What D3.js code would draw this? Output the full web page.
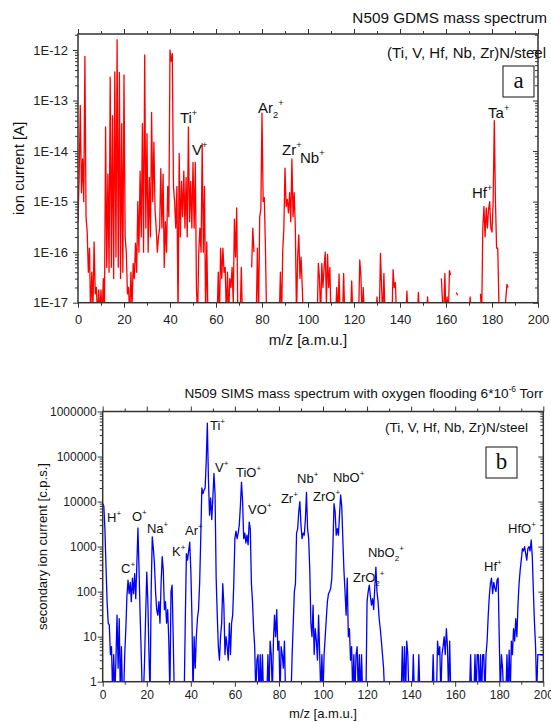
<!DOCTYPE html>
<html>
<head>
<meta charset="utf-8">
<script src="https://cdn.jsdelivr.net/npm/d3@7"></script>
<style>
  body { margin: 0; background: #fff; }
  svg { font-family: "Liberation Sans", Arial, sans-serif; }
</style>
</head>
<body>
<svg id="chart" width="551" height="722"></svg>
<script>
// ---- data ----

// GDMS spectrum, ion current [A], one value every 0.5 amu starting at 0 (null = no signal)
var gdmsStep = 0.5;
var gdmsCurrent = [
  4e-16, 3e-15, 8e-14, 1.5e-15, 7e-15, 1e-15, 7.5e-13, 5e-16, 2.5e-16, 4e-17,
  1.2e-16, 5e-18, 4e-17, 8e-18, 1.6e-16, 1.5e-17, 2e-17, 5e-18, 1.8e-17, 6e-18,
  1.8e-17, 5e-18, 3e-17, 6e-18, 3e-14, 5e-17, 3.5e-15, 4e-17, 2.9e-13, 5e-17,
  5e-14, 3e-17, 3.7e-13, 8e-17, 1.6e-12, 5e-17, 3.6e-13, 3e-17, 3.5e-14, 4e-17,
  3.2e-13, 2e-16, 1e-16, 1.5e-17, 2e-17, 5e-18, 4e-17, 8e-18, 6e-17, 3e-17,
  1.5e-16, 4e-17, 1e-15, 1e-16, 4e-15, 2e-16, 3.5e-14, 1e-16, 8e-13, 3e-16,
  2.2e-14, 1e-16, 3e-15, 2e-16, 5.8e-14, 1e-15, 1.5e-14, 7e-16, 3e-16, 1e-16,
  2e-16, 3e-16, 4.5e-15, 3e-16, 3.5e-15, 5e-17, 4e-16, 1e-16, 2e-15, 5e-16,
  1e-12, 6e-13, 8.5e-13, 2e-15, 1e-15, 3e-16, 2e-15, 5e-18, 9e-15, 2e-16,
  2.5e-15, 5e-16, 4e-15, 3e-16, 3e-15, 2e-16, 3e-14, 4e-16, 2.5e-15, 3e-16,
  6e-15, 3e-16, 6e-15, 2e-17, 5e-18, 1e-16, 3e-16, 1e-16, 1.4e-14, 1e-16,
  2e-15, 5e-18, 1.6e-16, 5e-18, null, null, null, null, null, null,
  null, 5e-18, 4e-17, 5e-18, 1.2e-16, 3e-17, 1.2e-16, 4e-17, 5e-17, 5e-18,
  4e-17, 5e-18, 3e-17, 2e-17, 5e-17, 1e-17, 4.5e-16, 8e-17, 7.5e-16, 5e-18,
  null, 5e-18, 5e-17, 5e-18, null, null, null, null, null, null,
  null, 5e-17, 3e-16, 1e-16, null, 5e-18, 1.2e-16, 5e-18, 5e-16, 7e-16,
  5.6e-14, 1e-15, 1.2e-15, 1.2e-16, 5e-18, null, null, null, null, null,
  null, null, null, null, null, 5e-18, 4e-17, 5e-18, 1e-16, 3e-16,
  4.6e-15, 8e-16, 1.1e-15, 6e-16, 1.5e-15, 4e-16, 7e-15, 5e-16, 1.5e-15, 3e-16,
  5e-18, 8e-17, 2.2e-16, 3e-17, 8e-17, 2e-17, 5e-18, null, null, null,
  null, null, null, null, null, null, null, null, 5e-18, 6e-17,
  3e-17, 5e-18, 6e-17, 2e-17, 5e-17, 1e-16, 1e-17, 9e-17, 2e-17, 5e-17,
  5e-18, null, null, null, 5e-18, 2e-17, 5e-18, 3.7e-17, 5e-18, null,
  5e-18, 3.8e-17, 5e-18, null, null, null, null, 5e-18, 2.7e-17, 5e-18,
  null, null, null, null, 5e-18, 7e-17, 3.5e-17, 5e-18, 2e-17, 5e-18,
  null, null, null, null, null, null, null, null, null, 5e-18,
  1.3e-17, 5e-18, 5e-18, 9.5e-17, 2e-17, 5e-18, 3.8e-17, 5e-18, null, null,
  null, null, null, 5e-18, 4.5e-17, 2e-17, 2.5e-17, 5e-18, null, null,
  null, null, null, null, null, 5e-18, 1.7e-17, 5e-18, null, null,
  null, null, null, null, null, 5e-18, 1.6e-17, 5e-18, null, null,
  null, null, null, 5e-18, 1.3e-17, 5e-18, null, null, null, null,
  null, null, null, null, null, null, 3e-17, 1e-17, 5e-18, 3.8e-17,
  5e-18, 1.3e-17, 5e-18, 4.3e-17, 3.5e-17, null, null, null, null, 1.6e-17,
  1.4e-17, null, null, null, null, null, null, null, null, null,
  5e-18, 1.3e-17, 5e-18, null, null, null, null, null, null, null,
  1.5e-17, 5e-18, 3e-16, 8e-16, 2e-16, 7.5e-16, 3e-16, 7e-16, 1e-15, 3e-16,
  2.5e-16, 1e-15, 4e-14, 1e-15, 1.2e-16, 1.2e-16, 1e-17, 5e-18, null, null,
  null, 5e-18, 1.2e-17, 2.3e-17, 2e-17, null, null
];

// SIMS spectrum, counts per second, one value every 0.5 amu starting at 0 (null = no counts)
var simsStep = 0.5;
var simsCounts = [
  9000, 8000, 2500, 350, 60, 20, 18, 4, 6, 0.5,
  4, 0.5, 3, 30, 2, 25, 0.5, 6, 0.5, 0.5,
  4, 15, 80, 180, 90, 160, 60, 200, 90, 250,
  70, 400, 2600, 300, 30, 4, 0.5, 0.5, 3, 30,
  270, 60, 4, 0.5, 100, 1650, 900, 400, 100, 40,
  30, 60, 20, 150, 600, 300, 40, 60, 20, 40,
  8, 0.5, 100, 140, 10, 0.5, null, null, null, null,
  null, null, null, null, 0.5, 25, 700, 500, 800, 1250,
  300, 30, 0.5, 10, 2, 10, 25, 40, 150, 1500,
  20000, 15000, 18000, 20000, 80000, 550000, 30000, 5000, 12000, 4000,
  12000, 42000, 15000, 200, 30, 6, 3, 10, 20, 150,
  50, 4, 10, 6, 3, 20, 4, 20, 30, 150,
  1500, 2200, 1500, 2000, 3000, 8000, 27000, 10000, 1500, 2000,
  1200, 1800, 1100, 3500, 2500, 150, 60, 15, 6, 0.5,
  3, 4, 0.5, 4, 0.5, 4, 0.5, null, null, 0.5,
  4, 0.5, 8, 4, 0.5, 8, 30, 10, 40, 5,
  8, 0.5, 6, 4, 2, 8, 0.5, null, null, null,
  null, 0.5, 4, 20, 100, 150, 2000, 2500, 6000, 10000,
  3000, 1500, 2000, 1800, 4000, 16000, 2500, 1500, 300, 20,
  10, 50, 4, 15, 8, 3, 30, 4, 0.5, 4,
  0.5, 4, 10, 25, 60, 90, 100, 120, 200, 1000,
  9000, 6000, 1800, 2500, 1800, 5000, 14000, 8000, 1500, 300,
  100, 30, 200, 10, 15, 3, 6, 0.5, 4, 0.5,
  4, 6, 0.5, 4, 0.5, 4, 0.5, null, null, 0.5,
  60, 100, 140, 80, 50, 70, 40, 120, 350, 100,
  60, 25, 15, 8, 4, 2, 0.5, null, null, null,
  null, null, null, null, null, null, null, null, null, null,
  null, 0.5, 6, 0.5, 6, 0.5, 8, 4, 0.5, null,
  null, 0.5, 4, 0.5, null, null, 0.5, 4, 0.5, null,
  null, null, null, null, null, null, null, null, null, 0.5,
  4, 0.5, null, 0.5, 8, 4, 6, 0.5, 4, 6,
  10, 4, 15, 6, 0.5, 8, 0.5, null, null, null,
  null, null, null, null, null, null, null, null, null, null,
  null, null, null, 0.5, 4, 0.5, null, 0.5, 4, 0.5,
  4, 4, 0.5, 4, 0.5, 4, 4, 0.5, 4, 8,
  30, 80, 150, 200, 90, 160, 120, 100, 180, 200,
  10, 0.5, 4, 2, 0.5, null, 0.5, 4, 0.5, 5,
  0.5, 8, 4, 15, 8, 25, 10, 50, 150, 300,
  500, 900, 800, 1000, 700, 500, 900, 1000, 800, 1400,
  600, 100, 20, 6, 0.5, 4, 4, 4, 4, 4,
  4
];

// tick labels
var massTicks = [0, 20, 40, 60, 80, 100, 120, 140, 160, 180, 200];
var massMinorTicks = [10, 30, 50, 70, 90, 110, 130, 150, 170, 190];
var gdmsTicks = [1e-17, 1e-16, 1e-15, 1e-14, 1e-13, 1e-12];
var simsTicks = [1, 10, 100, 1000, 10000, 100000, 1000000];

// peak labels: text, m/z and value where the label starts
var gdmsLabelText = ["Ti^+", "V^+", "Ar_2^+", "Zr^+", "Nb^+", "Ta^+", "Hf^+"];
var gdmsLabelMz = [44.3, 49.6, 78.3, 88.7, 96.5, 178.3, 171.3];
var gdmsLabelAt = [3.6e-14, 8.3e-15, 5.6e-14, 8.3e-15, 5.9e-15, 4.6e-14, 1.2e-15];

var simsLabelText = ["H^+", "C^+", "O^+", "Na^+", "K^+", "Ar^+", "Ti^+", "V^+", "TiO^+", "VO^+",
                     "Zr^+", "Nb^+", "ZrO^+", "NbO^+", "NbO_2^+", "ZrO_2^+", "Hf^+", "HfO^+"];
var simsLabelMz = [2.0, 8.3, 13.3, 20.1, 31.5, 37.4, 48.7, 51.0, 60.5, 66.0,
                   80.9, 88.2, 95.5, 104.5, 120.4, 113.6, 173.1, 184.0];
var simsLabelAt = [3500, 260, 3700, 2000, 620, 1800, 390000, 46000, 35000, 5300,
                   9300, 26000, 10400, 27000, 590, 165, 290, 2000];

var svg = d3.select("#chart");

// write text with _x subscripts and ^x / ^{..} superscripts
function richText(sel, str, size) {
    var re = /(_|\^)(\{[^}]*\}|.)/g, parts = [], last = 0, m;
    while ((m = re.exec(str)) !== null) {
        if (m.index > last) parts.push({t: str.slice(last, m.index), k: 0});
        var s = m[2].charAt(0) === "{" ? m[2].slice(1, -1) : m[2];
        parts.push({t: s, k: m[1] === "_" ? 1 : -1});
        last = re.lastIndex;
    }
    if (last < str.length) parts.push({t: str.slice(last), k: 0});
    var cur = 0;
    parts.forEach(function (p) {
        var off = p.k === 1 ? 0.3 * size : (p.k === -1 ? -0.45 * size : 0);
        sel.append("tspan")
            .attr("dy", off - cur)
            .attr("font-size", p.k ? size * 0.62 : size)
            .text(p.t);
        cur = off;
    });
}

function drawPanel(o) {
    var x = d3.scaleLinear().domain([0, 200]).range([o.left, o.right]);
    var y = d3.scaleLog().domain(o.yDomain).range([o.bottom, o.top]);

    var g = svg.append("g");

    // clip for the spectrum
    g.append("clipPath").attr("id", o.id + "-clip")
        .append("rect")
        .attr("x", o.left).attr("y", o.top)
        .attr("width", o.right - o.left).attr("height", o.bottom - o.top);

    var pts = o.values.map(function (v, i) { return {mz: i * o.step, v: v}; });
    var line = d3.line()
        .defined(function (d) { return d.v != null; })
        .x(function (d) { return x(d.mz); })
        .y(function (d) { return y(d.v); });

    g.append("path")
        .datum(pts)
        .attr("clip-path", "url(#" + o.id + "-clip)")
        .attr("fill", "none")
        .attr("stroke", o.color)
        .attr("stroke-width", 1.3)
        .attr("stroke-linejoin", "round")
        .attr("d", line);

    // minor log ticks
    var minor = [];
    o.yTicks.forEach(function (t) {
        for (var k = 2; k <= 9; k++) {
            var v = t * k;
            if (v <= o.yDomain[1]) minor.push(v);
        }
    });

    function axis(gen, tr, ticks, size, fmt, pad) {
        var a = gen.tickValues(ticks).tickSize(size).tickSizeOuter(0).tickPadding(pad || 3)
            .tickFormat(fmt || "");
        var ag = g.append("g").attr("transform", tr).call(a);
        ag.select(".domain").remove();
        ag.selectAll("line").attr("stroke", "#333");
        ag.selectAll("text").attr("fill", "#222").attr("font-size", o.tickFont)
            .attr("font-family", "Liberation Sans, Arial, sans-serif");
        return ag;
    }

    axis(d3.axisBottom(x), "translate(0," + o.bottom + ")", massTicks, 5, d3.format("d"), o.xPad);
    axis(d3.axisBottom(x), "translate(0," + o.bottom + ")", massMinorTicks, 3);
    axis(d3.axisTop(x), "translate(0," + o.top + ")", massTicks, 5);
    axis(d3.axisTop(x), "translate(0," + o.top + ")", massMinorTicks, 3);
    axis(d3.axisLeft(y), "translate(" + o.left + ",0)", o.yTicks, 5, o.yFormat, o.yPad);
    axis(d3.axisLeft(y), "translate(" + o.left + ",0)", minor, 3);
    axis(d3.axisRight(y), "translate(" + o.right + ",0)", o.yTicks, -5);
    axis(d3.axisRight(y), "translate(" + o.right + ",0)", minor, -3);

    // frame
    g.append("rect")
        .attr("x", o.left).attr("y", o.top)
        .attr("width", o.right - o.left).attr("height", o.bottom - o.top)
        .attr("fill", "none").attr("stroke", "#333").attr("stroke-width", 1.5);

    // title
    var tt = g.append("text")
        .attr("x", o.titleX).attr("y", o.titleY)
        .attr("text-anchor", "end")
        .attr("font-size", o.titleFont).attr("fill", "#111");
    richText(tt, o.title, o.titleFont);

    // sample name
    g.append("text")
        .attr("x", o.sampleX).attr("y", o.sampleY)
        .attr("text-anchor", "end")
        .attr("font-size", o.sampleFont).attr("fill", "#111")
        .text("(Ti, V, Hf, Nb, Zr)N/steel");

    // letter box
    g.append("rect")
        .attr("x", o.box[0]).attr("y", o.box[1])
        .attr("width", 31).attr("height", 31)
        .attr("fill", "#fff").attr("stroke", "#111").attr("stroke-width", 1);
    g.append("text")
        .attr("x", o.box[0] + 15.5).attr("y", o.box[1] + 22)
        .attr("text-anchor", "middle")
        .attr("font-family", "Liberation Serif, Times New Roman, serif")
        .attr("font-size", 23).attr("fill", "#111")
        .text(o.letter);

    // peak labels
    o.labels.forEach(function (t, i) {
        var lt = g.append("text")
            .attr("x", x(o.labelMz[i])).attr("y", y(o.labelAt[i]))
            .attr("font-size", o.labelFont).attr("fill", "#111");
        richText(lt, t, o.labelFont);
    });

    // axis titles
    g.append("text")
        .attr("x", (o.left + o.right) / 2).attr("y", o.xTitleY)
        .attr("text-anchor", "middle")
        .attr("font-size", o.axisFont).attr("fill", "#111")
        .text("m/z [a.m.u.]");
    g.append("text")
        .attr("transform", "translate(" + o.yTitleX + "," + ((o.top + o.bottom) / 2) + ") rotate(-90)")
        .attr("text-anchor", "middle")
        .attr("font-size", o.axisFont).attr("fill", "#111")
        .text(o.yTitle);
}

drawPanel({
    id: "gdms",
    left: 78, right: 538, top: 34, bottom: 302.7,
    yDomain: [1e-17, 2.07e-12],
    values: gdmsCurrent, step: gdmsStep, color: "#ff0000",
    yTicks: gdmsTicks,
    yFormat: function (d) { return "1E" + Math.round(Math.log10(d)); },
    tickFont: 13, xPad: 7, yPad: 5,
    title: "N509 GDMS mass spectrum", titleX: 547, titleY: 23, titleFont: 15.3,
    sampleX: 546, sampleY: 58, sampleFont: 15,
    box: [503, 66], letter: "a",
    labels: gdmsLabelText, labelMz: gdmsLabelMz, labelAt: gdmsLabelAt, labelFont: 15,
    axisFont: 15, xTitleY: 345, yTitleX: 24, yTitle: "ion current [A]"
});

drawPanel({
    id: "sims",
    left: 102.7, right: 543.3, top: 411.5, bottom: 681.7,
    yDomain: [1, 1000000],
    values: simsCounts, step: simsStep, color: "#0000ff",
    yTicks: simsTicks,
    yFormat: d3.format("d"),
    tickFont: 12, xPad: 4, yPad: 1,
    title: "N509 SIMS mass spectrum with oxygen flooding 6*10^{-6} Torr", titleX: 543, titleY: 398, titleFont: 13.6,
    sampleX: 528, sampleY: 432, sampleFont: 13.5,
    box: [486, 447], letter: "b",
    labels: simsLabelText, labelMz: simsLabelMz, labelAt: simsLabelAt, labelFont: 13,
    axisFont: 13, xTitleY: 718, yTitleX: 47, yTitle: "secondary ion current [c.p.s.]"
});
</script>
</body>
</html>
